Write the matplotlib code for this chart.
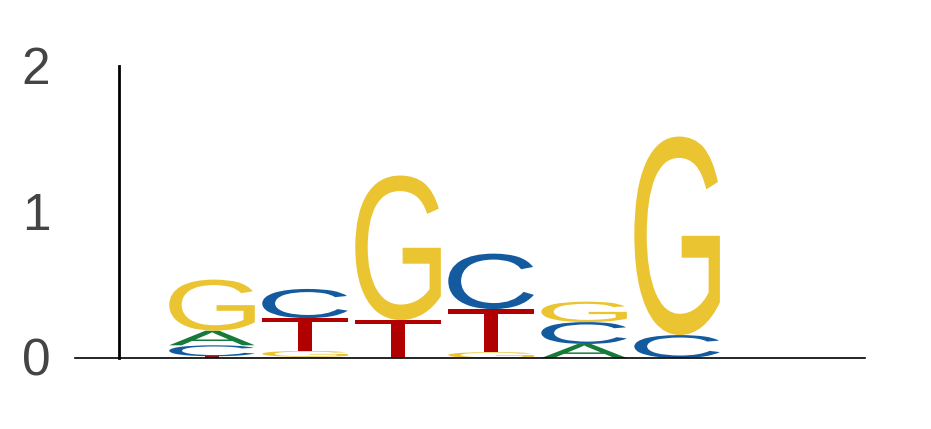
import matplotlib
matplotlib.use("Agg")
import matplotlib.pyplot as plt
from matplotlib.textpath import TextPath
from matplotlib.patches import PathPatch
from matplotlib.font_manager import FontProperties
from matplotlib.transforms import Affine2D, blended_transform_factory

# information content (bits) per position, one array per base
positions = [1, 2, 3, 4, 5, 6]
A_bits = [0.10, 0.008, 0.0, 0.0, 0.096, 0.0]
C_bits = [0.075, 0.20, 0.0, 0.38, 0.15, 0.157]
G_bits = [0.35, 0.04, 0.99, 0.04, 0.14, 1.36]
T_bits = [0.012, 0.225, 0.26, 0.295, 0.0, 0.0]
# stacking order, bottom to top
stack_order = ["TCAG", "AGTC", "TG", "GTC", "ACG", "CG"]
ytick_vals = [0, 1, 2]

colors = {"A": "#167a3a", "C": "#145a9e", "G": "#ebc432", "T": "#b00000"}
bits = {"A": A_bits, "C": C_bits, "G": G_bits, "T": T_bits}

font = FontProperties(family="Liberation Sans")

fig = plt.figure(figsize=(9.31, 4.29), dpi=100)
ax = fig.add_axes([75 / 931, 71 / 429, 790 / 931, 292 / 429])


def draw_letter(ax, ch, x, y0, h, w=0.92):
    # stretch the glyph so it fills a w x h box
    tp = TextPath((0, 0), ch, size=1, prop=font)
    ext = tp.get_extents()
    tr = (Affine2D()
          .translate(-ext.x0, -ext.y0)
          .scale(w / ext.width, h / ext.height)
          .translate(x - w / 2, y0))
    ax.add_patch(PathPatch(tr.transform_path(tp), facecolor=colors[ch],
                           edgecolor="none"))


for i, p in enumerate(positions):
    y = 0.0
    for ch in stack_order[i]:
        h = bits[ch][i]
        if h > 0:
            draw_letter(ax, ch, p, y, h)
            y += h

ax.set_xlim(-0.473, 8.02)
ax.set_ylim(0, 2)

ax.spines["top"].set_visible(False)
ax.spines["right"].set_visible(False)
ax.spines["left"].set_position(("data", 0))
ax.spines["left"].set_linewidth(2)
ax.spines["bottom"].set_linewidth(1.2)

ax.set_xticks([])
ax.set_yticks([])

# y labels sit at the far left, away from the moved spine
trans = blended_transform_factory(fig.transFigure, ax.transData)
for v in ytick_vals:
    fig.text(36 / 931, v - 0.03, str(v), transform=trans, fontsize=37,
             color="#444444", family="Liberation Sans", ha="center", va="center")

fig.savefig("out.png", dpi=100)
